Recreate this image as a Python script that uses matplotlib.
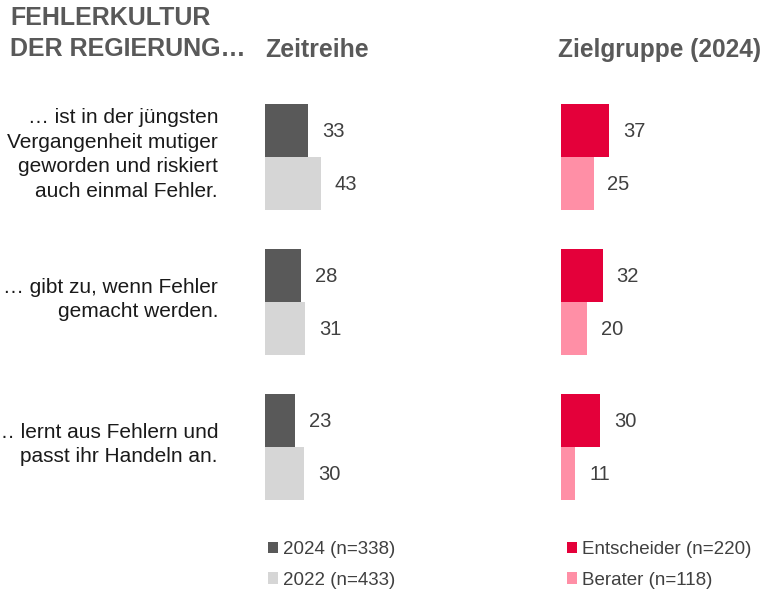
import matplotlib
matplotlib.use("Agg")
import matplotlib.pyplot as plt
import matplotlib.transforms as mtransforms
import numpy as np

plt.rcParams['font.family'] = ['Liberation Sans', 'DejaVu Sans']

# data
statements = [
    "… ist in der jüngsten\nVergangenheit mutiger\ngeworden und riskiert\nauch einmal Fehler.",
    "… gibt zu, wenn Fehler\ngemacht werden.",
    "… lernt aus Fehlern und\npasst ihr Handeln an.",
]
zeit_2024 = [33, 28, 23]
zeit_2022 = [43, 31, 30]
ziel_entscheider = [37, 32, 30]
ziel_berater = [25, 20, 11]

zeit_labels = ["2024 (n=338)", "2022 (n=433)"]
ziel_labels = ["Entscheider (n=220)", "Berater (n=118)"]
zeit_colors = ["#595959", "#D6D6D6"]
ziel_colors = ["#E4003A", "#FF8FA6"]

W, H = 764, 590
fig = plt.figure(figsize=(W / 100, H / 100), dpi=100)
renderer = fig.canvas.get_renderer()

bar_h = 53 / 145.0
top_px, bot_px = 104, 500
ax_h = (bot_px - top_px) / H
ax_b = (H - bot_px) / H

def panel(left_px, first, second, colors, labels, title, title_x, title_w, leg_x):
    ax = fig.add_axes([left_px / W, ax_b, 130 / W, ax_h])
    y = np.arange(len(first))
    b1 = ax.barh(y - bar_h / 2, first, height=bar_h, color=colors[0], label=labels[0])
    b2 = ax.barh(y + bar_h / 2, second, height=bar_h, color=colors[1], label=labels[1])
    for bars, vals in ((b1, first), (b2, second)):
        for rect, v in zip(bars, vals):
            ax.annotate(str(v), xy=(v, rect.get_y() + rect.get_height() / 2),
                        xytext=(10, -1), textcoords="offset points",
                        va="center", ha="left", fontsize=14.5, color="#404040")
    ax.set_xlim(0, 100)
    ax.set_ylim(len(first) - 1 + bar_h, -bar_h)
    ax.axis("off")
    t = fig.text(title_x / W, 1 - 57 / H, title, fontsize=18, fontweight="bold",
                 color="#595959", va="baseline", ha="left")
    # fit the heading to the width it has in the reference
    w = t.get_window_extent(renderer).width
    t.set_fontsize(18 * min(1.0, title_w / w))
    fig.legend(handles=[b1, b2], labels=labels, loc="upper left",
               bbox_to_anchor=(leg_x / W, 1 - 541 / H), frameon=False,
               handlelength=0.55, handleheight=0.55, handletextpad=0.25,
               labelspacing=0.73, fontsize=13.5, labelcolor="#404040",
               borderpad=0, borderaxespad=0)
    return ax

ax1 = panel(265, zeit_2024, zeit_2022, zeit_colors, zeit_labels,
            "Zeitreihe", 265, 104, 268)
ax2 = panel(561, ziel_entscheider, ziel_berater, ziel_colors, ziel_labels,
            "Zielgruppe (2024)", 558, 203, 567)

trans = mtransforms.blended_transform_factory(fig.transFigure, ax1.transData)
for i, s in enumerate(statements):
    fig.text(218 / W, i - 2.5 / 145, s, transform=trans, ha="right", va="center",
             fontsize=15, color="#1A1A1A", linespacing=1.37)

fig.text(10 / W, 1 - 6 / H, "FEHLERKULTUR\nDER REGIERUNG…", fontsize=18,
         fontweight="bold", color="#595959", va="top", ha="left", linespacing=1.35)

fig.savefig("out.png", dpi=100)
